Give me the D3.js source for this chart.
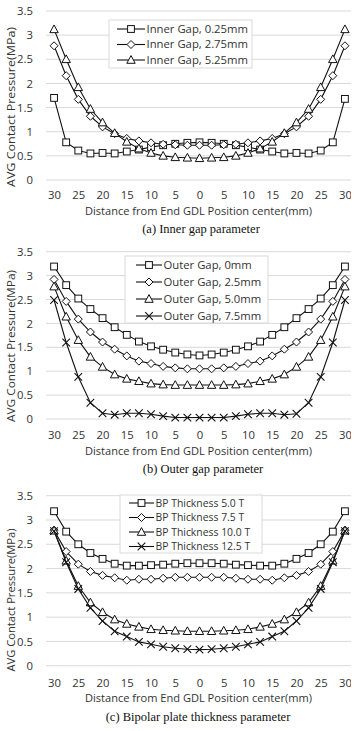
<!DOCTYPE html>
<html>
<head>
<meta charset="utf-8">
<script src="https://cdn.jsdelivr.net/npm/d3@7"></script>
<style>
  body { margin: 0; background: #fff; }
  svg { display: block; }
  text { font-family: "Open Sans", "Liberation Sans", sans-serif; fill: #333; }
  .caption { font-family: "Liberation Serif", "DejaVu Serif", serif; fill: #111; }
</style>
</head>
<body>
<svg id="chart" width="362" height="731"></svg>
<script>
// x positions (mm from centre, left side negative)
const xPositions = [-30, -27.5, -25, -22.5, -20, -17.5, -15, -12.5, -10, -7.5, -5, -2.5, 0,
  2.5, 5, 7.5, 10, 12.5, 15, 17.5, 20, 22.5, 25, 27.5, 30];
const xTickLabels = ["30", "25", "20", "15", "10", "5", "0", "5", "10", "15", "20", "25", "30"];
const yTicks = [0, 0.5, 1, 1.5, 2, 2.5, 3, 3.5];

// (a) inner gap
const innerNames = ["Inner Gap, 0.25mm", "Inner Gap, 2.75mm", "Inner Gap, 5.25mm"];
const inner025 = [1.70, 0.78, 0.61, 0.55, 0.56, 0.55, 0.59, 0.63, 0.68, 0.72, 0.75, 0.77, 0.78,
  0.77, 0.75, 0.72, 0.68, 0.63, 0.59, 0.55, 0.56, 0.55, 0.61, 0.78, 1.68];
const inner275 = [2.78, 2.16, 1.67, 1.32, 1.10, 0.96, 0.86, 0.81, 0.77, 0.74, 0.73, 0.72, 0.72,
  0.72, 0.73, 0.74, 0.77, 0.81, 0.86, 0.96, 1.10, 1.32, 1.67, 2.16, 2.78];
const inner525 = [3.12, 2.50, 1.92, 1.47, 1.19, 0.97, 0.79, 0.65, 0.56, 0.50, 0.47, 0.46, 0.45,
  0.46, 0.47, 0.50, 0.56, 0.65, 0.79, 0.97, 1.19, 1.47, 1.92, 2.50, 3.12];

// (b) outer gap
const outerNames = ["Outer Gap, 0mm", "Outer Gap, 2.5mm", "Outer Gap, 5.0mm", "Outer Gap, 7.5mm"];
const outer00 = [3.19, 2.80, 2.52, 2.30, 2.11, 1.92, 1.76, 1.62, 1.52, 1.45, 1.39, 1.35, 1.33,
  1.35, 1.39, 1.45, 1.52, 1.62, 1.76, 1.92, 2.11, 2.30, 2.52, 2.80, 3.19];
const outer25 = [2.92, 2.46, 2.09, 1.82, 1.61, 1.46, 1.32, 1.21, 1.16, 1.10, 1.07, 1.05, 1.05,
  1.05, 1.07, 1.10, 1.16, 1.21, 1.32, 1.46, 1.61, 1.82, 2.09, 2.46, 2.92];
const outer50 = [2.77, 2.14, 1.65, 1.30, 1.09, 0.93, 0.84, 0.79, 0.74, 0.72, 0.71, 0.71, 0.71,
  0.71, 0.71, 0.72, 0.74, 0.79, 0.84, 0.93, 1.09, 1.30, 1.65, 2.14, 2.77];
const outer75 = [2.49, 1.60, 0.88, 0.34, 0.12, 0.09, 0.12, 0.12, 0.10, 0.06, 0.03, 0.03, 0.03,
  0.03, 0.03, 0.06, 0.10, 0.12, 0.12, 0.09, 0.11, 0.34, 0.88, 1.60, 2.49];

// (c) bipolar plate thickness
const bpNames = ["BP Thickness 5.0 T", "BP Thickness 7.5 T", "BP Thickness 10.0 T", "BP Thickness 12.5 T"];
const bp50 = [3.18, 2.76, 2.50, 2.32, 2.20, 2.10, 2.06, 2.06, 2.07, 2.08, 2.10, 2.11, 2.11,
  2.11, 2.10, 2.08, 2.07, 2.06, 2.06, 2.10, 2.20, 2.32, 2.50, 2.76, 3.18];
const bp75 = [2.79, 2.35, 2.09, 1.94, 1.86, 1.81, 1.76, 1.78, 1.78, 1.80, 1.82, 1.82, 1.82,
  1.82, 1.82, 1.80, 1.78, 1.78, 1.76, 1.81, 1.86, 1.94, 2.09, 2.35, 2.79];
const bp100 = [2.78, 2.16, 1.64, 1.30, 1.10, 0.95, 0.86, 0.80, 0.75, 0.73, 0.72, 0.71, 0.71,
  0.71, 0.72, 0.73, 0.75, 0.80, 0.86, 0.95, 1.10, 1.30, 1.64, 2.16, 2.78];
const bp125 = [2.77, 2.13, 1.58, 1.19, 0.92, 0.71, 0.60, 0.49, 0.44, 0.39, 0.36, 0.34, 0.33,
  0.34, 0.36, 0.39, 0.44, 0.49, 0.60, 0.71, 0.92, 1.19, 1.58, 2.13, 2.77];

const markers = ["square", "diamond", "triangle", "cross"];

const panels = [
  { top: 11, bottom: 180, names: innerNames, series: [inner025, inner275, inner525],
    caption: "(a) Inner gap parameter", captionX: 201,
    legend: { x: 109, y: 20, w: 143, h: 48, rowY: [29, 44.5, 60], lineX: 117, textX: 146, fs: 11.3 },
    tickY: 198, titleY: 214.5, captionY: 233, yTitleY: 107, yTitleLen: 160 },
  { top: 251.7, bottom: 419, names: outerNames, series: [outer00, outer25, outer50, outer75],
    caption: "(b) Outer gap parameter", captionX: 203,
    legend: { x: 125, y: 256, w: 143, h: 67, rowY: [265, 282, 299, 316], lineX: 136, textX: 163, fs: 11.3 },
    tickY: 438, titleY: 455, captionY: 473, yTitleY: 346, yTitleLen: 152 },
  { top: 495.7, bottom: 665.7, names: bpNames, series: [bp50, bp75, bp100, bp125],
    caption: "(c) Bipolar plate thickness parameter", captionX: 198,
    legend: { x: 120, y: 495, w: 142, h: 58, rowY: [503, 517.5, 532, 546.5], lineX: 129, textX: 155, fs: 10.4 },
    tickY: 686, titleY: 702, captionY: 721, yTitleY: 600, yTitleLen: 143 }
];

const svg = d3.select("#chart");
const x = d3.scalePoint().domain(xPositions).range([48, 351]).padding(0.5);

svg.append("defs").append("clipPath").attr("id", "edge")
  .append("rect").attr("x", 0).attr("y", 0).attr("width", 351).attr("height", 731);

// draw a marker symbol at the origin
function drawMarker(g, type) {
  if (type === "square") {
    g.append("rect").attr("x", -3.4).attr("y", -3.4).attr("width", 6.8).attr("height", 6.8)
      .attr("fill", "#fff").attr("stroke", "#111").attr("stroke-width", 1);
  } else if (type === "diamond") {
    g.append("path").attr("d", "M0,-4L4,0L0,4L-4,0Z")
      .attr("fill", "#fff").attr("stroke", "#111").attr("stroke-width", 1);
  } else if (type === "triangle") {
    g.append("path").attr("d", "M0,-4.4L4.2,3.3L-4.2,3.3Z")
      .attr("fill", "#fff").attr("stroke", "#111").attr("stroke-width", 1);
  } else {
    g.append("path").attr("d", "M-3.8,-3.8L3.8,3.8M-3.8,3.8L3.8,-3.8")
      .attr("fill", "none").attr("stroke", "#111").attr("stroke-width", 1.1);
  }
}

panels.forEach((p) => {
  const y = d3.scaleLinear().domain([0, 3.5]).range([p.bottom, p.top]);
  const g = svg.append("g");

  // gridlines
  g.append("g").selectAll("line").data(yTicks).enter().append("line")
    .attr("x1", 46).attr("x2", 351)
    .attr("y1", (d) => y(d)).attr("y2", (d) => y(d))
    .attr("stroke", "#d9d9d9").attr("stroke-width", 1);

  // y axis labels
  const yAxis = d3.axisLeft(y).tickValues(yTicks).tickSize(0).tickPadding(0)
    .tickFormat((d) => String(d));
  const ya = g.append("g").attr("transform", "translate(33,0)").call(yAxis);
  ya.select(".domain").remove();
  ya.selectAll("text").attr("font-size", 11.3).attr("fill", "#404040")
    .style("font-family", '"Open Sans", sans-serif');

  // x axis labels (every other category)
  const xAxis = d3.axisBottom(x)
    .tickValues(xPositions.filter((d, i) => i % 2 === 0))
    .tickSize(0).tickPadding(0)
    .tickFormat((d, i) => xTickLabels[i]);
  const xa = g.append("g").attr("transform", `translate(0,${p.tickY - 7.5})`)
    .attr("clip-path", "url(#edge)").call(xAxis);
  xa.select(".domain").remove();
  xa.selectAll("text").attr("font-size", 11.3).attr("fill", "#404040")
    .style("font-family", '"Open Sans", sans-serif');

  // axis titles
  g.append("text").attr("x", 198.5).attr("y", p.titleY).attr("text-anchor", "middle")
    .attr("font-size", 11).attr("fill", "#404040")
    .attr("textLength", 227).attr("lengthAdjust", "spacingAndGlyphs")
    .text("Distance from End GDL Position center(mm)");
  g.append("text").attr("transform", `translate(15,${p.yTitleY}) rotate(-90)`)
    .attr("text-anchor", "middle").attr("font-size", 11).attr("fill", "#404040")
    .attr("textLength", p.yTitleLen).attr("lengthAdjust", "spacingAndGlyphs")
    .text("AVG Contact Pressure(MPa)");

  // caption
  g.append("text").attr("class", "caption").attr("x", p.captionX).attr("y", p.captionY)
    .attr("text-anchor", "middle").attr("font-size", 12.5).text(p.caption);

  // series lines and markers
  const line = d3.line().x((d, i) => x(xPositions[i])).y((d) => y(d));
  p.series.forEach((s, si) => {
    g.append("path").datum(s).attr("d", line)
      .attr("fill", "none").attr("stroke", "#111").attr("stroke-width", 1.1);
    g.append("g").selectAll("g").data(s).enter().append("g")
      .attr("transform", (d, i) => `translate(${x(xPositions[i])},${y(d)})`)
      .each(function () { drawMarker(d3.select(this), markers[si]); });
  });

  // legend
  const L = p.legend;
  g.append("rect").attr("x", L.x).attr("y", L.y).attr("width", L.w).attr("height", L.h)
    .attr("fill", "#fff").attr("stroke", "#d9d9d9");
  p.names.forEach((name, si) => {
    const ry = L.rowY[si];
    g.append("line").attr("x1", L.lineX).attr("x2", L.textX - 1).attr("y1", ry).attr("y2", ry)
      .attr("stroke", "#111").attr("stroke-width", 1.1);
    const mg = g.append("g").attr("transform", `translate(${(L.lineX + L.textX - 1) / 2},${ry})`);
    drawMarker(mg, markers[si]);
    g.append("text").attr("x", L.textX + 0.5).attr("y", ry).attr("dy", "0.35em")
      .attr("font-size", L.fs).attr("fill", "#333").text(name);
  });
});
</script>
</body>
</html>
